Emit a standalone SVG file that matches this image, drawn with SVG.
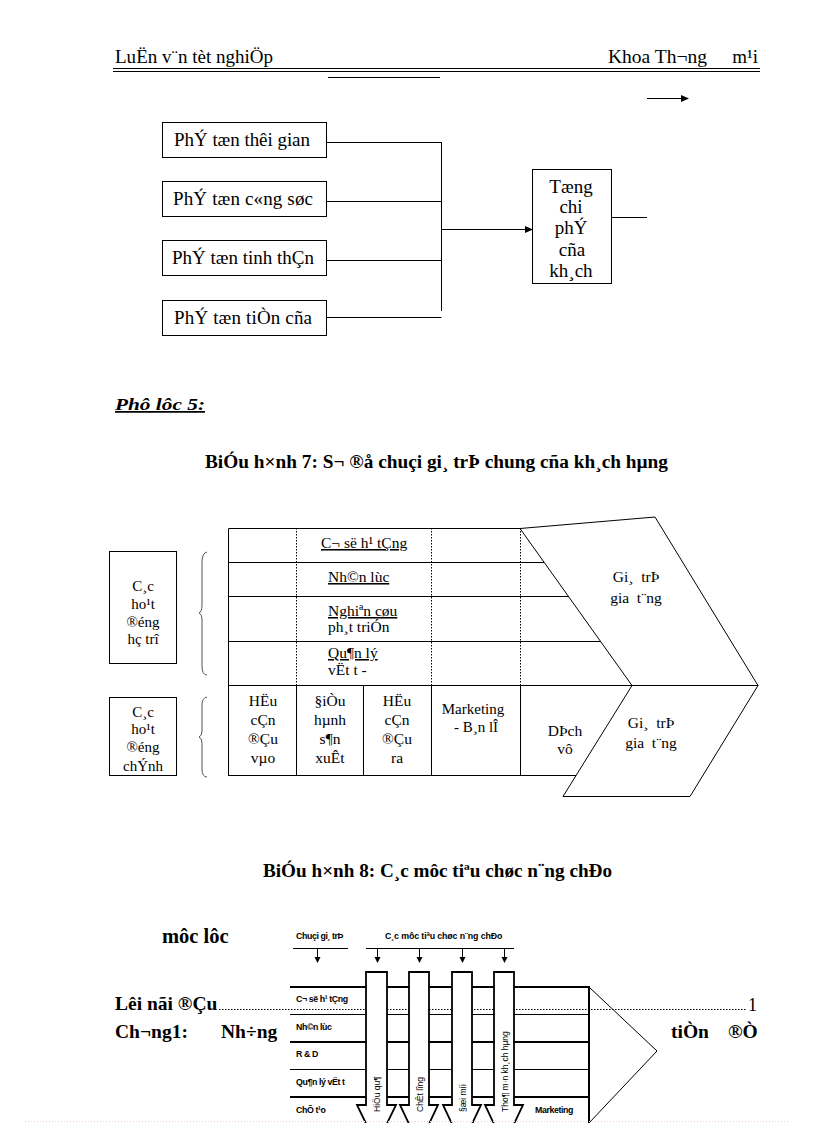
<svg xmlns="http://www.w3.org/2000/svg" width="816" height="1123" viewBox="0 0 816 1123">
<defs>
<style>
.t{font-family:"Liberation Serif","Times New Roman",serif;fill:#000}
.b{font-weight:bold}
.s{font-family:"Liberation Sans",Arial,sans-serif;font-weight:bold;font-size:8.8px;fill:#000;letter-spacing:-0.4px}
.ln{stroke:#000;stroke-width:1;fill:none}
.dot{stroke:#000;stroke-width:1;stroke-dasharray:1.5 1.5;fill:none}
.box{fill:#fff;stroke:#000;stroke-width:1}
.th{stroke:#000;stroke-width:2;fill:none}
</style>
<marker id="ah" markerWidth="8" markerHeight="8" refX="7" refY="4" orient="auto" markerUnits="userSpaceOnUse">
<path d="M0,0.5 L8,4 L0,7.5 Z" fill="#000"/>
</marker>
<clipPath id="cb2"><rect x="109" y="697" width="68" height="78"/></clipPath>
</defs>
<rect width="816" height="1123" fill="#fff"/>

<!-- header -->
<g id="header">
<text class="t" x="115" y="63" font-size="19" textLength="158" lengthAdjust="spacingAndGlyphs">LuËn v¨n tèt nghiÖp</text>
<text class="t" x="608" y="63" font-size="19" textLength="99" lengthAdjust="spacingAndGlyphs">Khoa Th¬ng</text>
<text class="t" x="758" y="63" font-size="19" text-anchor="end">m¹i</text>
<line class="ln" x1="113" y1="68.5" x2="760" y2="68.5" stroke="#444"/>
<line class="ln" x1="113" y1="71.5" x2="760" y2="71.5"/>
<line class="ln" x1="328" y1="77.5" x2="440" y2="77.5"/>
</g>

<!-- diagram 1 -->
<g id="n-thoigian"><rect class="box" x="162.5" y="122.5" width="164" height="35"/><text class="t" x="174" y="146" font-size="19" textLength="136">PhÝ tæn thêi gian</text></g>
<g id="n-congsuc"><rect class="box" x="162.5" y="181.5" width="164" height="35"/><text class="t" x="173" y="205" font-size="19" textLength="140">PhÝ tæn c«ng søc</text></g>
<g id="n-tinhthan"><rect class="box" x="162.5" y="240.5" width="164" height="35"/><text class="t" x="172" y="264" font-size="19" textLength="142">PhÝ tæn tinh thÇn</text></g>
<g id="n-tiencua"><rect class="box" x="162.5" y="300.5" width="164" height="35"/><text class="t" x="174" y="324" font-size="19" textLength="138">PhÝ tæn tiÒn cña</text></g>
<g id="n-tong"><rect class="box" x="532.5" y="169.5" width="79" height="114"/>
<text class="t" font-size="19" text-anchor="middle"><tspan x="571" y="193">Tæng</tspan><tspan x="571" y="213">chi</tspan><tspan x="571" y="234">phÝ</tspan><tspan x="572" y="256">cña</tspan><tspan x="571" y="277">kh¸ch</tspan></text></g>

<g id="connectors">
<line class="ln" x1="647" y1="98.5" x2="688" y2="98.5" marker-end="url(#ah)"/>
<line class="ln" x1="326" y1="142.5" x2="441.5" y2="142.5"/>
<line class="ln" x1="326" y1="201.5" x2="441.5" y2="201.5"/>
<line class="ln" x1="326" y1="260.5" x2="441.5" y2="260.5"/>
<line class="ln" x1="326" y1="317.5" x2="441.5" y2="317.5"/>
<line class="ln" x1="441.5" y1="142" x2="441.5" y2="311"/>
<line class="ln" x1="441.5" y1="229.5" x2="532" y2="229.5" marker-end="url(#ah)"/>
<line class="ln" x1="611" y1="217.5" x2="647" y2="217.5"/>
</g>

<!-- section 5 -->
<text class="t b" x="115" y="410" font-size="17.5" font-style="italic" text-decoration="underline" textLength="90" lengthAdjust="spacingAndGlyphs">Phô lôc 5:</text>
<text class="t b" x="205" y="468" font-size="18.5" textLength="463" lengthAdjust="spacingAndGlyphs">BiÓu h×nh  7: S¬ ®å chuçi gi¸ trÞ chung cña kh¸ch hµng</text>

<!-- diagram 2 -->
<g id="n-hotro"><rect class="box" x="109.5" y="551.5" width="67" height="112"/>
<text class="t" font-size="15" text-anchor="middle"><tspan x="143" y="591">C¸c</tspan><tspan x="143" y="609">ho¹t</tspan><tspan x="143" y="627">®éng</tspan><tspan x="143" y="644">hç trî</tspan></text></g>
<g id="n-chinh"><rect class="box" x="109.5" y="697.5" width="67" height="78"/>
<text class="t" font-size="15" text-anchor="middle" clip-path="url(#cb2)"><tspan x="143" y="717">C¸c</tspan><tspan x="143" y="734">ho¹t</tspan><tspan x="143" y="752">®éng</tspan><tspan x="143" y="771">chÝnh</tspan></text></g>
<g id="braces" stroke="#555" stroke-width="1" fill="none">
<path d="M207,552 Q202,553 202,562 L202,605 Q202,612 199,613 Q202,614 202,621 L202,666 Q202,675 207,675"/>
<path d="M207,697 Q202,698 202,705 L202,731 Q202,736 199,737 Q202,738 202,743 L202,769 Q202,777 207,777"/>
</g>
<g id="valuechain">
<polyline class="ln" points="228.5,775 228.5,528.5 520,528.5"/>
<line class="ln" x1="228" y1="562.5" x2="544" y2="562.5"/>
<line class="ln" x1="228" y1="596.5" x2="569" y2="596.5"/>
<line class="ln" x1="228" y1="641.5" x2="601" y2="641.5"/>
<line class="ln" x1="228" y1="685.5" x2="758" y2="685.5"/>
<line class="ln" x1="228" y1="775.5" x2="576" y2="775.5"/>
<line class="dot" x1="296.5" y1="528" x2="296.5" y2="685"/>
<line class="dot" x1="431.5" y1="528" x2="431.5" y2="685"/>
<line class="dot" x1="520.5" y1="528" x2="520.5" y2="685"/>
<line class="ln" x1="296.5" y1="685" x2="296.5" y2="775"/>
<line class="ln" x1="363.5" y1="685" x2="363.5" y2="775"/>
<line class="ln" x1="431.5" y1="685" x2="431.5" y2="775"/>
<line class="ln" x1="520.5" y1="685" x2="520.5" y2="775"/>
<polygon class="ln" points="520,528.5 655,517 758,685.5 690,796.5 563,796.5 632,685.5"/>
</g>
<g id="support-labels" class="t" font-size="15.5" xml:space="preserve">
<text x="321" y="548" text-decoration="underline">C¬ së h¹ tÇng</text>
<text x="328" y="582" text-decoration="underline">Nh©n lùc</text>
<text x="328" y="616" text-decoration="underline">Nghiªn  cøu </text>
<text x="328" y="632">ph¸t  triÓn</text>
<text x="328" y="658" text-decoration="underline">Qu¶n  lý  </text>
<text x="328" y="675">vËt  t   -</text>
</g>
<g id="primary-labels" class="t" font-size="15.5" text-anchor="middle">
<text><tspan x="263" y="706">HËu</tspan><tspan x="263" y="725">cÇn</tspan><tspan x="263" y="744">®Çu</tspan><tspan x="263" y="763">vµo</tspan></text>
<text><tspan x="330" y="706">§iÒu</tspan><tspan x="330" y="725">hµnh</tspan><tspan x="330" y="744">s¶n</tspan><tspan x="330" y="763">xuÊt</tspan></text>
<text><tspan x="397" y="706">HËu</tspan><tspan x="397" y="725">cÇn</tspan><tspan x="397" y="744">®Çu</tspan><tspan x="397" y="763">ra</tspan></text>
<text font-size="15"><tspan x="473" y="714">Marketing</tspan><tspan x="476" y="732">- B¸n lÎ</tspan></text>
<text><tspan x="565" y="736">DÞch</tspan><tspan x="565" y="754">vô</tspan></text>
<text xml:space="preserve"><tspan x="636" y="582">Gi¸  trÞ</tspan><tspan x="636" y="603">gia  t¨ng</tspan></text>
<text xml:space="preserve"><tspan x="651" y="728">Gi¸  trÞ</tspan><tspan x="651" y="748">gia  t¨ng</tspan></text>
</g>

<!-- diagram 3 -->
<text class="t b" x="263" y="877" font-size="18.5" textLength="349" lengthAdjust="spacingAndGlyphs">BiÓu h×nh 8: C¸c môc tiªu chøc n¨ng chÐo</text>
<text class="t b" x="162" y="943" font-size="20.5">môc lôc</text>

<g id="crossfunc">
<text class="s" x="296" y="939">Chuçi gi¸ trÞ</text>
<text class="s" x="385" y="939" textLength="117">C¸c môc tiªu chøc n¨ng chÐo</text>
<line class="ln" x1="293" y1="948.5" x2="348" y2="948.5"/>
<line class="ln" x1="366" y1="948.5" x2="514" y2="948.5"/>
<g stroke="#000" stroke-width="1">
<line x1="317.5" y1="948" x2="317.5" y2="958"/>
<line x1="377.5" y1="948" x2="377.5" y2="958"/>
<line x1="419.5" y1="948" x2="419.5" y2="958"/>
<line x1="462.5" y1="948" x2="462.5" y2="958"/>
<line x1="504.5" y1="948" x2="504.5" y2="958"/>
</g>
<g fill="#000">
<path d="M314.5,957 L320.5,957 L317.5,963 Z"/>
<path d="M374.5,957 L380.5,957 L377.5,963 Z"/>
<path d="M416.5,957 L422.5,957 L419.5,963 Z"/>
<path d="M459.5,957 L465.5,957 L462.5,963 Z"/>
<path d="M501.5,957 L507.5,957 L504.5,963 Z"/>
</g>
<line class="th" x1="290" y1="987" x2="589" y2="987"/>
<line class="ln" x1="290" y1="1014.5" x2="589" y2="1014.5"/>
<line class="th" x1="290" y1="1042" x2="589" y2="1042"/>
<line class="ln" x1="290" y1="1069.5" x2="589" y2="1069.5"/>
<line class="th" x1="290" y1="1097" x2="589" y2="1097"/>
<line class="dot" x1="219" y1="1009.5" x2="747" y2="1009.5" stroke-width="1.5" stroke-dasharray="1.5 2.5"/>
<line class="th" x1="589" y1="986" x2="589" y2="1123"/>
<polyline class="ln" stroke-width="1.5" points="589,987 657,1051 589,1123"/>
<g stroke="#000" stroke-width="1.8" fill="#fff">
<polygon points="366,972 387,972 387,1105 396,1105 376.5,1145 357,1105 366,1105"/>
<polygon points="409,972 429,972 429,1105 438,1105 419,1145 400,1105 409,1105"/>
<polygon points="452,972 472,972 472,1105 481,1105 462,1145 443,1105 452,1105"/>
<polygon points="494,972 514,972 514,1105 523,1105 504,1145 485,1105 494,1105"/>
</g>
<text class="s" x="296" y="1002">C¬ së h¹ tÇng</text>
<text class="s" x="296" y="1030">Nh©n lùc</text>
<text class="s" x="296" y="1057">R &amp; D</text>
<text class="s" x="296" y="1085">Qu¶n lý vËt t­</text>
<text class="s" x="296" y="1113">ChÕ t¹o</text>
<text class="s" x="535" y="1113">Marketing</text>
<g font-family="Liberation Sans,Arial,sans-serif" font-size="8.5" fill="#000">
<text transform="translate(380,1112) rotate(-90)">HiÖu qu¶</text>
<text transform="translate(423,1112) rotate(-90)">ChÊt l­îng</text>
<text transform="translate(466,1112) rotate(-90)">§æi míi</text>
<text transform="translate(508,1112) rotate(-90)">Tho¶ m·n kh¸ch hµng</text>
</g>
</g>

<g id="toc" class="t b" font-size="19.5">
<text x="115" y="1010">Lêi nãi ®Çu</text>
<text x="115" y="1038">Ch¬ng1:</text>
<text x="221" y="1038">Nh÷ng</text>
<text x="671" y="1038">tiÒn</text>
<text x="728" y="1038">®Ò</text>
<text x="748" y="1011" font-weight="normal" font-size="18">1</text>
</g>
<line x1="25" y1="1121.5" x2="790" y2="1121.5" stroke="#f0c8f0" stroke-width="1" stroke-dasharray="1 2"/>
</svg>
